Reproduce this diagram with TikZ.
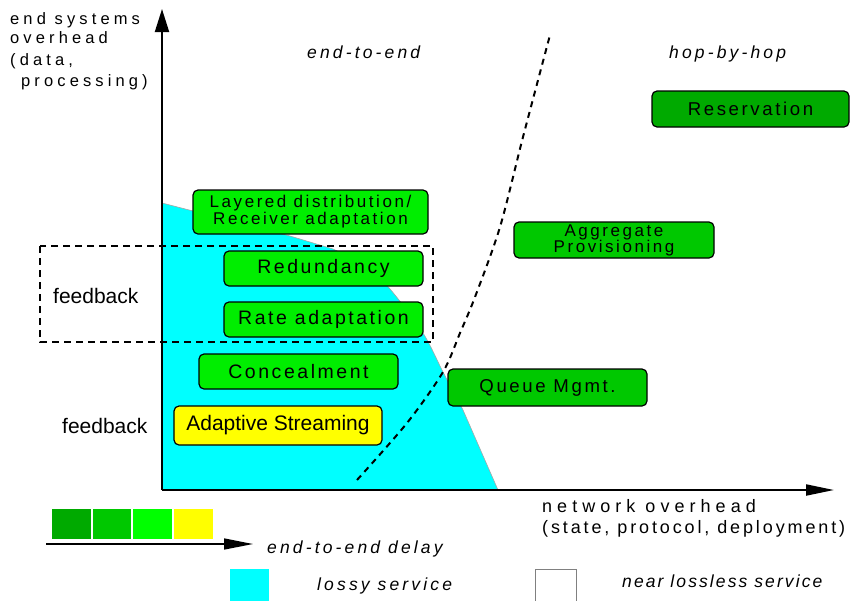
\documentclass[tikz,border=0pt]{standalone}
\usepackage{fontspec}
\setmainfont{Liberation Sans}
\usetikzlibrary{arrows.meta}
\definecolor{gBright}{RGB}{0,238,0}
\definecolor{gMed}{RGB}{0,200,0}
\definecolor{gDark}{RGB}{0,170,0}
\definecolor{yel}{RGB}{255,255,0}
\definecolor{cy}{RGB}{0,255,255}
\newcommand{\ls}[1]{\addfontfeatures{LetterSpace=#1}}
\newcommand{\fs}[1]{\fontsize{#1}{#1}\selectfont}
\tikzset{
  box/.style={draw=black, line width=1.2pt, rounded corners=5pt, inner sep=0pt, anchor=center, align=center},
  lbl/.style={inner sep=0pt, anchor=base west},
  axis/.style={line width=2pt},
}
\begin{document}
\begin{tikzpicture}[x=1pt,y=-1pt]
\useasboundingbox (0,0) rectangle (851,600);
% lossy region
\fill[cy] (162,203) -- (290,236) -- plot[smooth] coordinates {(333,249) (365,266) (390,289) (423,333) (443,372) (463,410)} -- (498,490) -- (162,490) -- cycle;
\draw[gray!70, line width=0.6pt] (162,203) -- (290,236) -- plot[smooth] coordinates {(333,249) (365,266) (390,289) (423,333) (443,372) (463,410)} -- (498,490);
% feedback dashed rectangle
\draw[line width=1.5pt, dash pattern=on 7pt off 5pt] (40,246) rectangle (433,342);
% end-to-end / hop-by-hop boundary
\draw[line width=2pt, dash pattern=on 6pt off 5pt] plot[smooth, tension=0.5] coordinates {(357,480) (407,423) (443,372) (460,333) (475,297) (500,227) (523,137) (550,35)};
% axes
\coordinate (o) at (162,490);
\coordinate (ytip) at (162,9);
\coordinate (xtip) at (834,490);
\draw[axis, -{Triangle[length=23pt,width=14pt]}] (o) -- (ytip);
\draw[axis, -{Triangle[length=28pt,width=11pt]}] (o) -- (xtip);
% boxes
\node[box, fill=gBright, minimum width=235pt, minimum height=44pt, font={\fontsize{17}{15}\selectfont\ls{15}}] (layer) at (310.5,212) {Layered distribution/\\Receiver adaptation};
\node[box, fill=gBright, minimum width=199pt, minimum height=35pt, font={\fs{19.5}\ls{13}}] (redund) at (323.5,268.5) {Redundancy};
\node[box, fill=gBright, minimum width=199pt, minimum height=35pt, font={\fs{19.5}\ls{13}}] (rate) at (323.5,319.5) {Rate adaptation};
\node[box, fill=gBright, minimum width=199pt, minimum height=35pt, font={\fs{19.5}\ls{13}}] (conceal) at (298.5,371.5) {Concealment};
\node[box, fill=yel, minimum width=208pt, minimum height=39pt, font={\fs{21}}] (adapt) at (278,425.5) {Adaptive Streaming};
\node[box, fill=gMed, minimum width=199pt, minimum height=37pt, font={\fs{18.6}\ls{14}}] (queue) at (547.5,387.5) {Queue Mgmt.};
\node[box, fill=gMed, minimum width=200pt, minimum height=36pt, font={\fontsize{17}{16}\selectfont\ls{15}}] (aggr) at (614,240) {Aggregate\\Provisioning};
\node[box, fill=gDark, minimum width=197pt, minimum height=36pt, font={\fs{18.6}\ls{14}}] (reserv) at (750.5,109) {Reservation};
% axis labels
\node[lbl, font={\fs{16.5}\ls{25}}] (ya1) at (10,24) {end systems};
\node[lbl, font={\fs{16.5}\ls{25}}] (ya2) at (10,43) {overhead};
\node[lbl, font={\fs{16.5}\ls{25}}] (ya3) at (10,65) {(data,};
\node[lbl, font={\fs{16.5}\ls{25}}] (ya4) at (21,86) {processing)};
\node[lbl, font={\fs{18}\ls{28}}] (xa1) at (542,512) {network overhead};
\node[lbl, font={\fs{18}\ls{16}}] (xa2) at (542,533) {(state, protocol, deployment)};
% region labels
\node[lbl, font={\fs{17.5}\itshape\ls{18}}] (e2e) at (307,58) {end-to-end};
\node[lbl, font={\fs{17.5}\itshape\ls{18}}] (hbh) at (669,58) {hop-by-hop};
\node[lbl, font={\fs{21}}] (fb1) at (53,303) {feedback};
\node[lbl, font={\fs{21}}] (fb2) at (62,433) {feedback};
% legend
\fill[gDark] (52,509) rectangle (91,539);
\fill[gMed] (93,509) rectangle (131,539);
\fill[green] (133,509) rectangle (172,539);
\fill[yel] (174,509) rectangle (213,539);
\coordinate (la) at (46,544);
\coordinate (lb) at (253,544);
\draw[line width=1.5pt, -{Triangle[length=29pt,width=11pt]}] (la) -- (lb);
\node[lbl, font={\fs{17.5}\itshape\ls{18}}] (dly) at (267,553) {end-to-end delay};
\fill[cy] (230,569) rectangle (269,603);
\node[lbl, font={\fs{17.5}\itshape\ls{18}}] (lossy) at (317,590) {lossy service};
\draw[gray, line width=0.8pt] (535,569) rectangle (576,603);
\node[lbl, font={\fs{17.5}\itshape\ls{12}}] (nl) at (622,587) {near lossless service};
\end{tikzpicture}
\end{document}
